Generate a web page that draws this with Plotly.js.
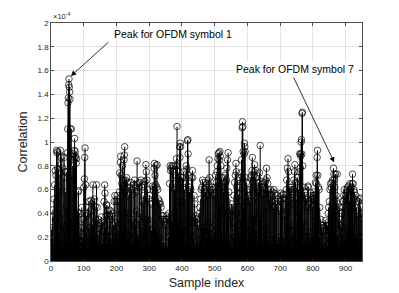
<!DOCTYPE html>
<html>
<head>
<meta charset="utf-8">
<script src="https://cdn.plot.ly/plotly-3.0.1.min.js"></script>
<style>html,body{margin:0;padding:0;background:#fff;}#chart{width:399px;height:293px;}</style>
</head>
<body>
<div id="chart"></div>
<script>
// Correlation values, in units of 1e-4, samples 1..950 (ten per row)
const correlation = [
0.26,0.20,0.28,0.08,0.37,0.43,0.15,0.05,0.52,0.12,
0.64,0.20,0.76,0.10,0.72,0.35,0.93,0.91,0.15,0.78,
0.92,0.30,0.77,0.12,0.62,0.08,0.73,0.25,0.93,0.87,
0.81,0.18,0.88,0.40,0.06,0.78,0.30,0.12,0.70,0.87,
0.25,0.75,0.08,0.58,0.15,0.46,0.75,0.05,0.30,0.91,
1.11,1.33,1.37,1.48,1.53,1.46,1.42,1.36,1.11,0.85,
0.35,1.11,0.15,0.72,0.10,0.80,0.32,0.18,0.88,0.90,
0.93,1.03,0.86,0.92,0.88,0.40,0.82,0.86,0.15,0.30,
0.41,0.10,0.58,0.59,0.12,0.25,0.05,0.40,0.16,0.08,
0.28,0.16,0.06,0.45,0.12,0.20,0.04,0.35,0.18,0.62,
0.20,0.69,0.87,0.95,0.12,0.64,0.25,0.08,0.38,0.10,
0.40,0.06,0.20,0.45,0.12,0.50,0.08,0.28,0.15,0.42,
0.18,0.51,0.10,0.48,0.25,0.12,0.30,0.64,0.20,0.50,
0.28,0.12,0.52,0.08,0.46,0.20,0.35,0.10,0.64,0.30,
0.45,0.18,0.06,0.35,0.10,0.22,0.05,0.27,0.12,0.32,
0.10,0.30,0.06,0.37,0.15,0.12,0.05,0.33,0.10,0.25,
0.20,0.50,0.30,0.64,0.57,0.28,0.12,0.38,0.47,0.10,
0.47,0.15,0.42,0.06,0.25,0.12,0.43,0.08,0.38,0.20,
0.35,0.08,0.42,0.15,0.05,0.38,0.20,0.40,0.12,0.06,
0.30,0.15,0.50,0.10,0.55,0.18,0.32,0.08,0.50,0.20,
0.28,0.55,0.12,0.52,0.25,0.10,0.50,0.18,0.58,0.74,
0.32,0.83,0.88,0.72,0.40,0.65,0.12,0.80,0.25,0.68,
0.20,0.62,0.85,0.89,0.96,0.40,0.15,0.68,0.12,0.60,
0.70,0.22,0.66,0.10,0.40,0.15,0.55,0.08,0.62,0.20,
0.58,0.12,0.66,0.25,0.06,0.60,0.35,0.15,0.10,0.56,
0.32,0.18,0.64,0.08,0.68,0.20,0.62,0.30,0.10,0.58,
0.42,0.15,0.84,0.22,0.08,0.65,0.18,0.06,0.35,0.62,
0.66,0.20,0.40,0.15,0.68,0.10,0.62,0.28,0.06,0.50,
0.25,0.55,0.10,0.48,0.06,0.64,0.67,0.12,0.35,0.81,
0.75,0.34,0.68,0.20,0.60,0.15,0.35,0.10,0.52,0.08,
0.55,0.15,0.30,0.06,0.48,0.12,0.26,0.05,0.20,0.63,
0.25,0.60,0.15,0.62,0.78,0.82,0.30,0.72,0.20,0.64,
0.80,0.25,0.62,0.81,0.20,0.60,0.15,0.52,0.10,0.48,
0.20,0.50,0.12,0.48,0.08,0.45,0.10,0.38,0.06,0.35,
0.12,0.08,0.38,0.06,0.35,0.10,0.05,0.33,0.08,0.30,
0.10,0.35,0.06,0.38,0.12,0.05,0.36,0.08,0.20,0.40,
0.20,0.65,0.30,0.80,0.76,0.25,0.78,0.34,0.15,0.80,
0.32,0.75,0.16,0.80,0.40,0.12,0.60,0.25,0.65,0.72,
0.80,0.25,0.86,0.45,1.13,0.80,0.35,0.15,0.70,0.32,
0.75,0.25,0.96,0.87,0.99,0.96,0.50,0.20,0.70,0.15,
0.25,0.70,0.10,0.62,0.75,0.20,0.06,0.60,0.15,0.52,
0.12,0.65,0.80,0.25,0.77,0.30,1.01,1.02,0.90,0.72,
0.35,0.15,0.58,0.10,0.62,0.15,0.60,0.22,0.70,0.25,
0.32,0.76,0.70,0.36,0.20,0.10,0.55,0.08,0.48,0.12,
0.08,0.38,0.06,0.35,0.05,0.32,0.10,0.36,0.06,0.30,
0.12,0.08,0.40,0.15,0.45,0.10,0.52,0.18,0.60,0.25,
0.62,0.20,0.68,0.28,0.12,0.66,0.25,0.60,0.10,0.52,
0.15,0.58,0.10,0.62,0.20,0.65,0.12,0.55,0.30,0.68,
0.25,0.64,0.85,0.32,0.70,0.15,0.58,0.12,0.60,0.22,
0.18,0.62,0.10,0.55,0.08,0.60,0.20,0.12,0.56,0.15,
0.25,0.62,0.72,0.30,0.66,0.15,0.75,0.80,0.38,0.86,
0.90,0.52,0.91,0.85,0.46,0.92,0.88,0.42,0.80,0.35,
0.70,0.20,0.66,0.15,0.62,0.12,0.58,0.70,0.45,0.65,
0.30,0.72,0.15,0.66,0.20,0.68,0.78,0.50,0.85,0.32,
0.91,0.40,0.58,0.18,0.10,0.45,0.08,0.42,0.06,0.38,
0.10,0.48,0.06,0.45,0.08,0.42,0.12,0.20,0.55,0.32,
0.66,0.28,0.72,0.20,0.82,0.75,0.40,0.62,0.15,0.68,
0.30,0.12,0.56,0.10,0.62,0.20,0.70,0.36,0.18,0.74,
0.50,0.85,0.40,1.12,1.17,1.13,0.92,0.45,0.22,0.90,
0.99,0.96,0.92,0.50,0.70,0.22,0.66,0.15,0.60,0.12,
0.58,0.10,0.55,0.30,0.08,0.50,0.15,0.60,0.70,0.26,
0.18,0.72,0.35,0.76,0.87,0.50,0.66,0.38,0.20,0.72,
0.75,0.81,0.40,0.70,0.22,0.76,0.18,0.66,0.12,0.62,
0.15,0.60,0.10,0.58,0.66,0.22,0.74,0.40,0.97,0.35,
0.67,0.15,0.62,0.12,0.65,0.08,0.56,0.15,0.62,0.20,
0.10,0.60,0.15,0.66,0.28,0.68,0.45,0.78,0.22,0.70,
0.15,0.65,0.10,0.60,0.08,0.58,0.12,0.52,0.18,0.56,
0.60,0.10,0.55,0.08,0.50,0.12,0.58,0.15,0.06,0.45,
0.60,0.12,0.45,0.57,0.10,0.50,0.18,0.05,0.48,0.12,
0.55,0.15,0.08,0.52,0.06,0.45,0.20,0.05,0.42,0.10,
0.50,0.57,0.12,0.55,0.08,0.52,0.06,0.48,0.56,0.15,
0.20,0.45,0.10,0.38,0.52,0.15,0.56,0.12,0.60,0.68,
0.42,0.78,0.26,0.86,0.50,0.75,0.28,0.62,0.15,0.60,
0.20,0.58,0.10,0.62,0.15,0.48,0.22,0.08,0.56,0.60,
0.25,0.68,0.30,0.75,0.81,0.48,0.66,0.20,0.52,0.18,
0.62,0.15,0.70,0.36,0.10,0.60,0.28,0.75,0.40,0.90,
0.78,0.90,0.88,1.00,1.02,0.90,1.24,1.25,0.80,0.32,
0.15,0.62,0.10,0.58,0.12,0.52,0.08,0.55,0.20,0.10,
0.52,0.25,0.45,0.15,0.63,0.62,0.12,0.48,0.20,0.08,
0.50,0.12,0.57,0.06,0.55,0.18,0.52,0.10,0.46,0.12,
0.55,0.20,0.58,0.12,0.52,0.25,0.56,0.66,0.30,0.72,
0.65,0.35,0.87,0.93,0.72,0.30,0.62,0.15,0.60,0.20,
0.45,0.10,0.35,0.06,0.30,0.08,0.28,0.05,0.25,0.12,
0.30,0.08,0.28,0.06,0.25,0.10,0.05,0.34,0.08,0.30,
0.10,0.32,0.05,0.30,0.12,0.08,0.40,0.45,0.15,0.50,
0.25,0.60,0.18,0.65,0.28,0.62,0.40,0.66,0.22,0.68,
0.35,0.20,0.78,0.73,0.68,0.15,0.62,0.42,0.73,0.30,
0.55,0.12,0.50,0.73,0.22,0.08,0.48,0.10,0.42,0.15,
0.45,0.10,0.35,0.12,0.30,0.06,0.28,0.40,0.08,0.45,
0.10,0.50,0.08,0.55,0.15,0.60,0.12,0.52,0.18,0.55,
0.20,0.58,0.12,0.60,0.25,0.62,0.15,0.58,0.63,0.24,
0.18,0.50,0.65,0.15,0.60,0.23,0.48,0.62,0.18,0.65,
0.73,0.32,0.65,0.15,0.60,0.20,0.58,0.10,0.52,0.18,
0.55,0.12,0.45,0.20,0.40,0.08,0.38,0.15,0.42,0.50,
0.15,0.52,0.10,0.53,0.20,0.46,0.08,0.40,0.25,0.35
];
const xTickVals = [0,100,200,300,400,500,600,700,800,900];
const yTickVals = [0,0.2,0.4,0.6,0.8,1,1.2,1.4,1.6,1.8,2];
const yTickText = ["0","0.2","0.4","0.6","0.8","1","1.2","1.4","1.6","1.8","2"];
const xLabel = "Sample index";
const yLabel = "Correlation";
const exponentLabel = "×10<sup>-4</sup>";
const note1 = "Peak for OFDM symbol 1";
const note7 = "Peak for OFDM symbol 7";

const sampleIdx = correlation.map((v, i) => i + 1);
const stemX = [], stemY = [];
correlation.forEach((v, i) => { stemX.push(sampleIdx[i], sampleIdx[i], null); stemY.push(0, v, null); });

const font = "'Liberation Sans', Arial, Helvetica, sans-serif";
const traces = [
  {x: stemX, y: stemY, type: 'scatter', mode: 'lines', line: {color: '#000', width: 1}, hoverinfo: 'skip', showlegend: false},
  {x: sampleIdx, y: correlation, type: 'scatter', mode: 'markers',
   marker: {symbol: 'circle-open', size: 6.5, color: '#000', line: {width: 0.7, color: '#000'}}, showlegend: false}
];
const axisCommon = {
  showgrid: true, gridcolor: '#e3e3e3', gridwidth: 1, zeroline: false,
  showline: true, linecolor: '#262626', linewidth: 0.8, mirror: 'ticks',
  ticks: 'inside', ticklen: 3, tickwidth: 0.8, tickcolor: '#262626',
  tickfont: {family: font, size: 8, color: '#262626'}
};
const arrowStyle = {showarrow: true, arrowhead: 2, arrowsize: 1.3, arrowwidth: 0.8, arrowcolor: '#000',
  xref: 'x', yref: 'y', axref: 'x', ayref: 'y', text: ''};
const layout = {
  width: 399, height: 293,
  margin: {l: 51, r: 37, t: 23, b: 32},
  paper_bgcolor: '#fff', plot_bgcolor: '#fff',
  xaxis: Object.assign({}, axisCommon, {range: [0, 950], tickvals: xTickVals,
    title: {text: xLabel, font: {family: font, size: 12.5, color: '#262626'}, standoff: 5}}),
  yaxis: Object.assign({}, axisCommon, {range: [0, 2], tickvals: yTickVals, ticktext: yTickText,
    title: {text: yLabel, font: {family: font, size: 12.5, color: '#262626'}, standoff: 6}}),
  annotations: [
    {xref: 'paper', yref: 'paper', x: 0.0, y: 1.0, xanchor: 'left', yanchor: 'bottom', showarrow: false,
     text: exponentLabel, font: {family: font, size: 7.5, color: '#262626'}},
    Object.assign({}, arrowStyle, {x: 61, y: 1.555, ax: 180, ay: 1.85}),
    Object.assign({}, arrowStyle, {x: 865, y: 0.83, ax: 739, ay: 1.555}),
    {xref: 'x', yref: 'y', x: 373, y: 1.91, showarrow: false, text: note1,
     font: {family: font, size: 10.5, color: '#000'}},
    {xref: 'x', yref: 'y', x: 745, y: 1.61, showarrow: false, text: note7,
     font: {family: font, size: 10.5, color: '#000'}, bgcolor: '#fff'}
  ]
};
Plotly.newPlot('chart', traces, layout, {staticPlot: true, displayModeBar: false});
</script>
</body>
</html>
